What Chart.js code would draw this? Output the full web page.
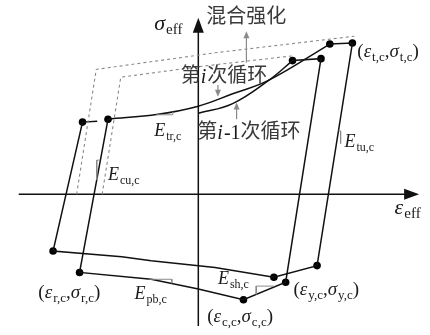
<!DOCTYPE html>
<html>
<head>
<meta charset="utf-8">
<script src="https://cdn.jsdelivr.net/npm/chart.js@4"></script>
<style>html,body{margin:0;padding:0;background:#fff}</style>
</head>
<body>
<canvas id="loopChart" width="430" height="335"></canvas>
<script>
// 第i次循环 (外环)：卸载/反向加载段
const loopI_eps = [-103, -118, -148, -78, -48, 17, 77, 121, 157, 134];
const loopI_sig = [75, 74, -58, -64, -68, -75, -85, -73, 155, 154];
// 第i次循环 再加载曲线
const reloadI_eps = [134, 72, 35, -1, -41, -92];
const reloadI_sig = [154, 117, 103, 90, 82, 77];
// 第i-1次循环 (内环)
const loopPrev_eps = [-92, -121, -48, 0, 46, 89, 125, 96];
const loopPrev_sig = [77, -80, -87, -97, -108, -90, 139, 137];
// 第i-1次循环 再加载曲线
const reloadPrev_eps = [96, 72, 35, 0];
const reloadPrev_sig = [137, 117, 93, 83];
// 特征点
const keyI_eps = [-118, -148, 77, 121, 157, 134];
const keyI_sig = [74, -58, -85, -73, 155, 154];
const keyPrev_eps = [-92, -121, 46, 89, 125, 96];
const keyPrev_sig = [77, -80, -108, -90, 139, 137];
// 强化边界 (虚线)
const boundOuter_eps = [-124, -104, 17, 159];
const boundOuter_sig = [0, 128, 145, 162];
const boundInner_eps = [-98, -79, 2, 97];
const boundInner_sig = [0, 120, 131, 142];
// 刚度三角
const triTr_eps = [-43, -26, -26];
const triTr_sig = [81.5, 81.5, 84.5];
const triPb_eps = [-50, -27, -27];
const triPb_sig = [-87, -87, -91];
const triCu_eps = [-100, -103.5, -103.5];
const triCu_sig = [35, 35, 15];
const triTu_eps = [142.8, 145, 145];
const triTu_sig = [65, 65, 52];
const triSh_eps = [77, 59, 59];
const triSh_sig = [-94, -94, -102.5];

const pts = (xs, ys) => xs.map((x, i) => ({x: x, y: ys[i]}));

const SERIF = '"Liberation Serif", "DejaVu Serif", serif';
const CJK = '"Noto Sans CJK SC", sans-serif';

// 文字标注 (i: 斜体, n: 正体, s: 下标, c: 中文)
const labels = [
    {at: [-45, 168], size: 22, runs: [['σ', 'i'], ['eff', 's']]},
    {at: [200, -20], size: 22, runs: [['ε', 'i'], ['eff', 's']]},
    {at: [8, 174], size: 20, runs: [['混合强化', 'c']]},
    {at: [-18, 114], size: 20, runs: [['第', 'c'], ['i', 'i'], ['次循环', 'c']]},
    {at: [-1, 57], size: 20, runs: [['第', 'c'], ['i', 'i'], ['-1', 'n'], ['次循环', 'c']]},
    {at: [-45, 60], size: 18, runs: [['E', 'i'], ['tr,c', 's']]},
    {at: [149, 48], size: 18, runs: [['E', 'i'], ['tu,c', 's']]},
    {at: [-92, 15], size: 18, runs: [['E', 'i'], ['cu,c', 's']]},
    {at: [-65, -107], size: 18, runs: [['E', 'i'], ['pb,c', 's']]},
    {at: [20, -92], size: 18, runs: [['E', 'i'], ['sh,c', 's']]},
    {at: [162, 141], size: 19, runs: [['(', 'n'], ['ε', 'i'], ['t,c', 's'], [',', 'n'], ['σ', 'i'], ['t,c', 's'], [')', 'n']]},
    {at: [-163, -106], size: 19, runs: [['(', 'n'], ['ε', 'i'], ['r,c', 's'], [',', 'n'], ['σ', 'i'], ['r,c', 's'], [')', 'n']]},
    {at: [9, -131], size: 19, runs: [['(', 'n'], ['ε', 'i'], ['c,c', 's'], [',', 'n'], ['σ', 'i'], ['c,c', 's'], [')', 'n']]},
    {at: [97, -103], size: 19, runs: [['(', 'n'], ['ε', 'i'], ['y,c', 's'], [',', 'n'], ['σ', 'i'], ['y,c', 's'], [')', 'n']]}
];

// 灰色箭头 [起点, 终点]
const grayArrows = [
    [[49, 135], [49, 167]],
    [[20, 112], [20, 100]],
    [[39, 77], [39, 94]]
];

function arrowHead(ctx, x, y, ang, len, half) {
    ctx.beginPath();
    ctx.moveTo(x, y);
    ctx.lineTo(x - len * Math.cos(ang) + half * Math.sin(ang), y - len * Math.sin(ang) - half * Math.cos(ang));
    ctx.lineTo(x - len * Math.cos(ang) - half * Math.sin(ang), y - len * Math.sin(ang) + half * Math.cos(ang));
    ctx.closePath();
    ctx.fill();
}

const annotate = {
    id: 'annotate',
    beforeDatasetsDraw(chart) {
        const ctx = chart.ctx, sx = chart.scales.x, sy = chart.scales.y;
        const x0 = sx.getPixelForValue(0), y0 = sy.getPixelForValue(0);
        ctx.save();
        ctx.strokeStyle = '#111';
        ctx.fillStyle = '#111';
        ctx.lineWidth = 1.5;
        // 坐标轴
        const xEnd = sx.getPixelForValue(225), yEnd = sy.getPixelForValue(181);
        ctx.beginPath();
        ctx.moveTo(sx.getPixelForValue(-183), y0);
        ctx.lineTo(xEnd - 10, y0);
        ctx.moveTo(x0, sy.getPixelForValue(-135));
        ctx.lineTo(x0, yEnd + 10);
        ctx.stroke();
        arrowHead(ctx, xEnd, y0, 0, 15, 5.5);
        arrowHead(ctx, x0, yEnd, -Math.PI / 2, 15, 5.5);
        ctx.restore();
    },
    afterDatasetsDraw(chart) {
        const ctx = chart.ctx, sx = chart.scales.x, sy = chart.scales.y;
        ctx.save();
        ctx.strokeStyle = '#8a8a8a';
        ctx.fillStyle = '#8a8a8a';
        ctx.lineWidth = 1.2;
        grayArrows.forEach(([a, b]) => {
            const ax = sx.getPixelForValue(a[0]), ay = sy.getPixelForValue(a[1]);
            const bx = sx.getPixelForValue(b[0]), by = sy.getPixelForValue(b[1]);
            const ang = Math.atan2(by - ay, bx - ax);
            ctx.beginPath();
            ctx.moveTo(ax, ay);
            ctx.lineTo(bx - 5 * Math.cos(ang), by - 5 * Math.sin(ang));
            ctx.stroke();
            arrowHead(ctx, bx, by, ang, 7, 3);
        });
        ctx.restore();

        ctx.save();
        ctx.textBaseline = 'alphabetic';
        labels.forEach(lb => {
            let x = sx.getPixelForValue(lb.at[0]);
            const y = sy.getPixelForValue(lb.at[1]);
            lb.runs.forEach(([t, k]) => {
                let dy = 0;
                if (k === 'c') {
                    ctx.font = lb.size + 'px ' + CJK;
                    ctx.fillStyle = '#3a3a3a';
                    dy = -1;
                } else if (k === 'i') {
                    ctx.font = 'italic ' + lb.size + 'px ' + SERIF;
                    ctx.fillStyle = '#1a1a1a';
                } else if (k === 's') {
                    ctx.font = Math.round(lb.size * 0.66) + 'px ' + SERIF;
                    ctx.fillStyle = '#1a1a1a';
                    dy = 4;
                } else {
                    ctx.font = lb.size + 'px ' + SERIF;
                    ctx.fillStyle = '#1a1a1a';
                }
                ctx.fillText(t, x, y + dy);
                x += ctx.measureText(t).width + (k === 'i' ? 1 : 0);
            });
        });
        ctx.restore();
    }
};

const solid = (data, tension) => ({
    data: data, showLine: true, borderColor: '#111', borderWidth: 1.5,
    pointRadius: 0, tension: tension || 0, fill: false
});
const dashed = data => ({
    data: data, showLine: true, borderColor: '#8a8a8a', borderWidth: 1.1,
    borderDash: [3, 3], pointRadius: 0, tension: 0, fill: false
});
const tri = data => ({
    data: data, showLine: true, borderColor: '#8a8a8a', borderWidth: 1,
    pointRadius: 0, fill: false
});
const dots = data => ({
    data: data, showLine: false, pointRadius: 3.8, pointBackgroundColor: '#000',
    pointBorderColor: '#000', pointBorderWidth: 0
});

new Chart(document.getElementById('loopChart'), {
    type: 'scatter',
    data: {
        datasets: [
            dashed(pts(boundOuter_eps, boundOuter_sig)),
            dashed(pts(boundInner_eps, boundInner_sig)),
            tri(pts(triTr_eps, triTr_sig)),
            tri(pts(triPb_eps, triPb_sig)),
            tri(pts(triCu_eps, triCu_sig)),
            tri(pts(triTu_eps, triTu_sig)),
            tri(pts(triSh_eps, triSh_sig)),
            solid(pts(loopI_eps, loopI_sig)),
            solid(pts(reloadI_eps, reloadI_sig), 0.4),
            solid(pts(loopPrev_eps, loopPrev_sig)),
            solid(pts(reloadPrev_eps, reloadPrev_sig), 0.4),
            dots(pts(keyI_eps, keyI_sig)),
            dots(pts(keyPrev_eps, keyPrev_sig))
        ]
    },
    options: {
        responsive: false,
        animation: false,
        layout: {padding: 0},
        plugins: {legend: {display: false}, tooltip: {enabled: false}},
        scales: {
            x: {type: 'linear', min: -198, max: 232, display: false},
            y: {type: 'linear', min: -140, max: 195, display: false}
        }
    },
    plugins: [annotate]
});
</script>
</body>
</html>
